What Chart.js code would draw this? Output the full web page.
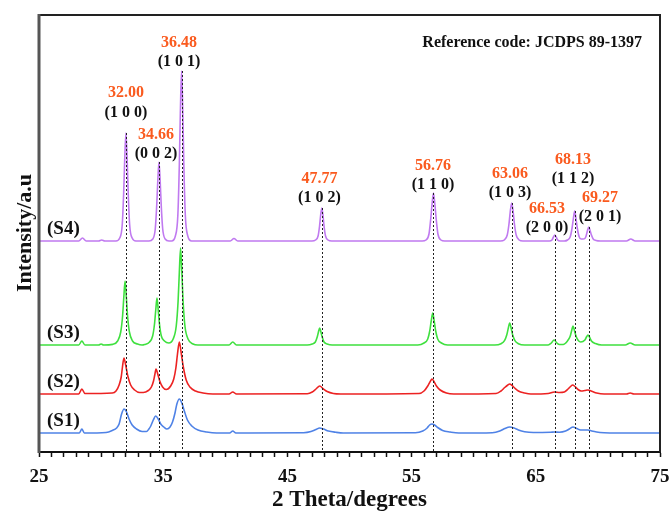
<!DOCTYPE html>
<html><head><meta charset="utf-8">
<script src="https://cdn.jsdelivr.net/npm/chart.js@4.4.0/dist/chart.umd.min.js"></script>
<style>html,body{margin:0;padding:0;background:#fff;}#wrap{width:669px;height:514px;position:relative;}</style>
</head><body><div id="wrap"><canvas id="c" width="669" height="514"></canvas></div>
<script>
// ---- data (2θ in degrees, intensity in stacked arbitrary units) ----
const s4Theta = [25, 28.2, 28.5, 28.8, 29.8, 30.05, 30.3,
  31.2, 31.5, 31.7, 31.82, 31.9, 32.0, 32.1, 32.18, 32.3, 32.5, 32.8,
  33.86, 34.16, 34.36, 34.48, 34.56, 34.66, 34.76, 34.84, 34.96, 35.16, 35.46,
  35.68, 35.98, 36.18, 36.30, 36.38, 36.48, 36.58, 36.66, 36.78, 36.98, 37.28,
  40.4, 40.7, 41.0,
  46.97, 47.27, 47.47, 47.59, 47.67, 47.77, 47.87, 47.95, 48.07, 48.27, 48.57,
  55.86, 56.16, 56.40, 56.54, 56.64, 56.76, 56.88, 56.98, 57.12, 57.36, 57.66,
  62.16, 62.46, 62.70, 62.84, 62.94, 63.06, 63.18, 63.28, 63.42, 63.66, 63.96,
  66.1, 66.3, 66.42, 66.53, 66.64, 66.76, 66.95,
  67.3, 67.55, 67.78, 67.92, 68.02, 68.13, 68.24, 68.34, 68.48, 68.65, 68.8,
  68.95, 69.05, 69.15, 69.27, 69.38, 69.48, 69.62, 69.85, 70.2,
  72.3, 72.65, 73.0, 75];
const s4Counts = [211, 211, 214, 211, 211, 212, 211,
  211, 214, 227, 260, 292, 319, 292, 260, 227, 214, 211,
  211, 213, 223, 247, 270, 290, 270, 247, 223, 213, 211,
  211, 216, 237, 288, 339, 381, 339, 288, 237, 216, 211,
  211, 213.5, 211,
  211, 212, 216, 226, 236, 244, 236, 226, 216, 212, 211,
  211, 212, 218, 233, 247, 259, 247, 233, 218, 212, 211,
  211, 212, 217, 228, 240, 249, 240, 228, 217, 212, 211,
  211, 212, 215, 217, 215, 212, 211,
  211, 212, 215.5, 224, 233, 241, 233, 224, 215.5, 213, 213,
  213.5, 216, 221, 225, 221, 217, 213, 211.5, 211,
  211, 213, 211, 211];

const s3Theta = [25, 28.2, 28.45, 28.7, 29.8, 30.0, 30.2,
  30.93, 31.33, 31.58, 31.73, 31.83, 31.93, 32.03, 32.13, 32.28, 32.53, 32.93, 33.3,
  33.5, 33.9, 34.15, 34.3, 34.4, 34.5, 34.6, 34.7, 34.85, 35.1, 35.45,
  35.8, 36.05, 36.2, 36.3, 36.4, 36.5, 36.6, 36.75, 37.0, 37.4, 37.8,
  40.3, 40.6, 40.9,
  46.6, 47.0, 47.25, 47.4, 47.5, 47.6, 47.7, 47.8, 47.95, 48.2, 48.6,
  55.5, 56.0, 56.3, 56.46, 56.58, 56.7, 56.82, 56.94, 57.1, 57.4, 57.9,
  61.7, 62.2, 62.48, 62.66, 62.78, 62.9, 63.02, 63.14, 63.32, 63.6, 64.1,
  66.0, 66.25, 66.47, 66.7, 66.9,
  67.2, 67.55, 67.76, 67.88, 68.0, 68.12, 68.25, 68.42, 68.62,
  68.95, 69.08, 69.2, 69.32, 69.48, 69.8, 70.3,
  72.2, 72.6, 73.0, 75];
const s3Counts = [107, 107, 111, 107, 107, 108, 107,
  107.6, 111, 120, 136, 155, 171, 155, 136, 120, 111, 108, 107,
  107.5, 110, 116, 128, 142, 154, 142, 128, 116, 111, 109,
  113, 126, 151, 180, 204, 180, 151, 126, 113, 108, 107,
  107, 110, 107,
  107, 108, 110, 115, 120, 124, 120, 115, 110, 108, 107,
  107, 109, 113, 121, 131, 139, 131, 121, 113, 109, 107,
  107, 108.3, 111.4, 117, 123.5, 129, 123.5, 117, 111.4, 108.3, 107,
  107, 109, 112, 109, 107.5,
  107.5, 111, 115.5, 121, 126, 121, 115.5, 111.5, 110,
  112, 115, 117, 115, 111, 108.5, 107,
  107, 109, 107, 107];

const s2Theta = [25, 28.2, 28.45, 28.7,
  30.9, 31.2, 31.45, 31.62, 31.72, 31.84, 31.98, 32.15, 32.38, 32.7, 33.1, 33.4,
  33.8, 34.05, 34.22, 34.32, 34.42, 34.56, 34.72, 34.95, 35.25,
  35.6, 35.85, 36.02, 36.15, 36.3, 36.45, 36.62, 36.85, 37.15, 37.6, 38.2, 39.0,
  40.3, 40.6, 40.9,
  46.6, 47.0, 47.3, 47.6, 47.9, 48.2, 48.7, 49.3,
  55.6, 56.0, 56.3, 56.5, 56.64, 56.8, 57.0, 57.3, 57.8, 58.4,
  61.8, 62.2, 62.5, 62.75, 62.9, 63.05, 63.3, 63.6, 64.1, 64.6,
  66.0, 66.5, 66.9,
  67.3, 67.6, 67.8, 67.97, 68.15, 68.4, 68.65,
  68.95, 69.2, 69.5, 69.9, 70.5,
  72.3, 72.6, 72.9, 75];
const s2Counts = [58, 58, 63, 58.5,
  59, 61, 67, 75, 85, 94, 87, 76, 67, 62, 59.5, 59.5,
  61.5, 65, 71, 77, 83, 78, 71, 65, 62.5,
  66, 73, 84, 98, 110, 99, 85, 72, 65, 61, 59, 58,
  58, 60, 58,
  58.3, 60, 63, 66, 63, 60.5, 58.5, 58,
  58.5, 61, 66, 70.5, 73, 70.5, 66, 62, 59, 58,
  58.5, 61, 64.5, 67, 68, 67, 64, 61, 59, 58,
  58.5, 60, 59.5,
  60, 63, 65.5, 67, 65.5, 62.5, 61,
  61.5, 62, 60.8, 59, 58,
  58, 59, 58, 58];

const s1Theta = [25, 28.25, 28.45, 28.65,
  30.4, 30.9, 31.25, 31.45, 31.65, 31.85, 32.05, 32.25, 32.5, 32.85, 33.3,
  33.65, 33.85, 34.0, 34.2, 34.4, 34.6, 34.8, 35.05, 35.3,
  35.55, 35.75, 35.95, 36.1, 36.3, 36.5, 36.7, 36.95, 37.3, 37.8, 38.5, 39.3,
  40.35, 40.6, 40.85,
  46.3, 46.9, 47.3, 47.6, 47.9, 48.3, 48.9, 49.5,
  55.3, 55.9, 56.25, 56.45, 56.64, 56.85, 57.1, 57.5, 58.1, 58.8,
  61.5, 62.1, 62.5, 62.9, 63.25, 63.6, 64.1, 64.8,
  66.2, 66.5, 66.9,
  67.4, 67.7, 68.0, 68.3, 68.6,
  69.0, 69.2, 69.5, 69.9, 70.5, 71.5, 75];
const s1Counts = [19, 19, 23, 19,
  19.5, 21.5, 24, 28, 38, 43, 40, 33, 27, 23, 20.5,
  20.5, 23, 26, 32, 36, 33, 28, 25, 23,
  25, 30, 39, 48, 53, 49, 41, 32, 26, 22, 20, 19,
  19, 21, 19,
  19.3, 20.5, 22.5, 24, 23, 21, 19.7, 19,
  19.3, 21, 24, 27, 28, 27, 24.5, 21.5, 20, 19,
  19.3, 21, 23.5, 25, 24, 22, 20.3, 19.5,
  19.8, 20, 19.8,
  21, 23, 25, 23.5, 22,
  22, 22, 21, 20, 19.3, 19, 19];

const sampleNames = ['(S4)', '(S3)', '(S2)', '(S1)'];
const reflections = [32.00, 34.66, 36.48, 47.77, 56.76, 63.06, 66.53, 68.13, 69.27];
const peakLabels = ['32.00', '34.66', '36.48', '47.77', '56.76', '63.06', '66.53', '68.13', '69.27'];
const hklLabels = ['(1 0 0)', '(0 0 2)', '(1 0 1)', '(1 0 2)', '(1 1 0)', '(1 0 3)', '(2 0 0)', '(1 1 2)', '(2 0 1)'];
const xTickLabels = [25, 35, 45, 55, 65, 75];

// ---- layout / style (not data) ----
const labelTheta = [32.0, 34.42, 36.27, 47.58, 56.72, 62.92, 65.9, 68.0, 70.17];
const labelLevel = [339.5, 298, 390, 254, 267, 259, 224, 273, 235];
const colors = ['#C07AF0', '#3FE03F', '#EC2222', '#4F82E6'];
const SERIF = "'Liberation Serif','Times New Roman',serif";

function pts(xs, ys) { return xs.map((t, i) => ({x: t, y: ys[i]})); }
const seriesX = [s4Theta, s3Theta, s2Theta, s1Theta];
const seriesY = [s4Counts, s3Counts, s2Counts, s1Counts];

const datasets = seriesX.map((xs, k) => ({
  label: sampleNames[k],
  data: pts(xs, seriesY[k]),
  borderColor: colors[k],
  borderWidth: 1.6,
  pointRadius: 0,
  fill: false,
  cubicInterpolationMode: 'monotone'
}));

function s4TopAt(p) {
  let m = -Infinity;
  s4Theta.forEach((t, i) => { if (Math.abs(t - p) < 0.15) m = Math.max(m, s4Counts[i]); });
  return m;
}

const decor = {
  id: 'decor',
  afterDatasetsDraw(chart) {
    const {ctx, chartArea: a, scales: {x, y}} = chart;
    ctx.save();
    // reference dashed lines
    ctx.setLineDash([2, 2]);
    ctx.strokeStyle = '#222';
    ctx.lineWidth = 1;
    reflections.forEach(p => {
      const px = Math.round(x.getPixelForValue(p)) + 0.5;
      ctx.beginPath();
      ctx.moveTo(px, y.getPixelForValue(s4TopAt(p)));
      ctx.lineTo(px, a.bottom);
      ctx.stroke();
    });
    ctx.setLineDash([]);
    // frame
    ctx.strokeStyle = '#222'; ctx.lineWidth = 2;
    ctx.beginPath(); ctx.moveTo(a.left - 1, a.top + 1); ctx.lineTo(a.right + 1, a.top + 1); ctx.stroke();
    ctx.beginPath(); ctx.moveTo(a.right, a.top); ctx.lineTo(a.right, a.bottom); ctx.stroke();
    ctx.strokeStyle = '#555'; ctx.lineWidth = 3;
    ctx.beginPath(); ctx.moveTo(a.left, a.top); ctx.lineTo(a.left, a.bottom + 1); ctx.stroke();
    // peak labels
    ctx.textAlign = 'center'; ctx.textBaseline = 'middle';
    ctx.font = 'bold 16px ' + SERIF;
    labelTheta.forEach((t, i) => {
      const px = x.getPixelForValue(t), py = y.getPixelForValue(labelLevel[i]);
      ctx.fillStyle = '#111';
      ctx.fillText(hklLabels[i], px, py);
      ctx.fillStyle = '#FA5A1E';
      ctx.fillText(peakLabels[i], px, py - 19.5);
    });
    // reference code
    ctx.fillStyle = '#111';
    ctx.textAlign = 'right';
    ctx.fillText('Reference code: JCDPS 89-1397', a.right - 18, a.top + 29);
    // sample names
    ctx.font = 'bold 19px ' + SERIF;
    ctx.textAlign = 'left';
    seriesY.forEach((ys, k) => {
      ctx.fillText(sampleNames[k], a.left + 8, y.getPixelForValue(ys[0]) - 12);
    });
    // y title
    ctx.font = 'bold 22px ' + SERIF;
    ctx.textAlign = 'center';
    ctx.translate(25, (a.top + a.bottom) / 2);
    ctx.rotate(-Math.PI / 2);
    ctx.fillText('Intensity/a.u', 0, 0);
    ctx.restore();
  }
};

new Chart(document.getElementById('c'), {
  type: 'line',
  data: {datasets},
  options: {
    responsive: false,
    animation: false,
    devicePixelRatio: 1,
    layout: {padding: {left: 39, right: 9, top: 14, bottom: 0}},
    plugins: {legend: {display: false}, tooltip: {enabled: false}},
    scales: {
      x: {
        type: 'linear', min: 25, max: 75,
        afterFit: s => { s.height = 62; s.paddingLeft = 0; s.paddingRight = 0; },
        grid: {drawOnChartArea: false, drawTicks: true, tickLength: 5, tickWidth: 1.5, tickColor: '#111'},
        border: {display: true, color: '#111', width: 2},
        ticks: {
          stepSize: 1, autoSkip: false, maxRotation: 0, padding: 9,
          color: '#111', font: {family: SERIF, size: 19, weight: 'bold'},
          callback: v => xTickLabels.includes(v) ? String(v) : ''
        },
        title: {display: true, text: '2 Theta/degrees', color: '#111',
          font: {family: SERIF, size: 23, weight: 'bold'}, padding: {top: 0, bottom: 0}}
      },
      y: {type: 'linear', min: 0, max: 438, display: false}
    }
  },
  plugins: [decor]
});
</script>
</body></html>
